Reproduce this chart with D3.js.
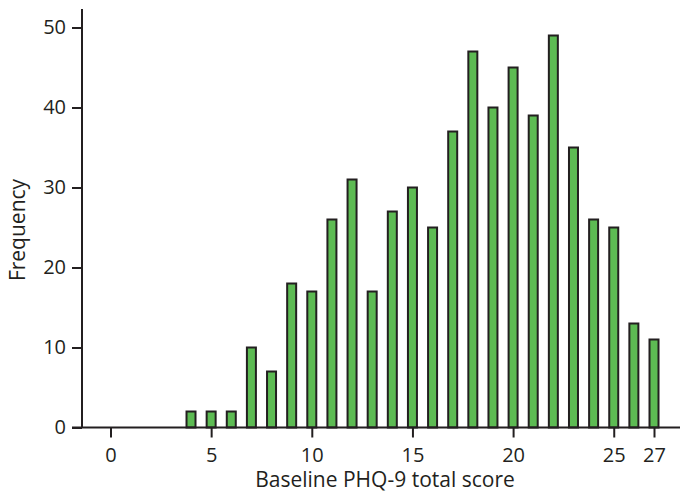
<!DOCTYPE html>
<html>
<head>
<meta charset="utf-8">
<script src="https://cdn.jsdelivr.net/npm/d3@7"></script>
<style>
  body { margin: 0; background: #fff; }
  svg text { font-family: "Open Sans", sans-serif; fill: #231f20; }
</style>
</head>
<body>
<div id="vis-holder"></div>
<script>
// Chart data
const scores = [4, 5, 6, 7, 8, 9, 10, 11, 12, 13, 14, 15, 16, 17, 18, 19, 20, 21, 22, 23, 24, 25, 26, 27];
const counts = [2, 2, 2, 10, 7, 18, 17, 26, 31, 17, 27, 30, 25, 37, 47, 40, 45, 39, 49, 35, 26, 25, 13, 11];
const xTicks = [0, 5, 10, 15, 20, 25, 27];
const yTicks = [0, 10, 20, 30, 40, 50];

const width = 681;
const height = 493;
const margin = { top: 9, right: 1, bottom: 65, left: 82 };

const svg = d3.select("#vis-holder")
    .append("svg")
    .attr("width", width)
    .attr("height", height);

// Scales
const x = d3.scaleLinear()
    .domain([0, 27])
    .range([110.5, 654]);

const y = d3.scaleLinear()
    .domain([0, 50])
    .range([427.5, 27.5]);

const axisColor = "#231f20";

// Bars
const barW = 9;
svg.selectAll(".bar")
    .data(scores)
    .enter()
    .append("rect")
    .attr("class", "bar")
    .attr("x", (d) => x(d) - barW / 2)
    .attr("y", (d, i) => y(counts[i]))
    .attr("width", barW)
    .attr("height", (d, i) => y(0) - y(counts[i]))
    .style("fill", "#5dbb53")
    .style("stroke", "#231f20")
    .style("stroke-width", 2);

// x axis
const gx = svg.append("g")
    .attr("transform", `translate(0,${y(0)})`)
    .call(d3.axisBottom(x)
        .tickValues(xTicks)
        .tickSize(10)
        .tickPadding(10)
        .tickSizeOuter(0))
    .attr("font-size", "20px");
gx.select(".domain").remove();
gx.selectAll(".tick line").attr("stroke", axisColor).attr("stroke-width", 2);
gx.append("line")
    .attr("x1", 72).attr("x2", width - margin.right)
    .attr("stroke", axisColor).attr("stroke-width", 2);

// y axis
const gy = svg.append("g")
    .attr("transform", `translate(${margin.left},0)`)
    .call(d3.axisLeft(y)
        .tickValues(yTicks)
        .tickSize(10)
        .tickPadding(6)
        .tickSizeOuter(0))
    .attr("font-size", "20px");
gy.select(".domain").remove();
gy.selectAll(".tick line").attr("stroke", axisColor).attr("stroke-width", 2);
gy.append("line")
    .attr("y1", margin.top).attr("y2", y(0))
    .attr("stroke", axisColor).attr("stroke-width", 2);

// Axis titles
svg.append("text")
    .attr("x", (247 + 523) / 2)
    .attr("y", 487)
    .attr("text-anchor", "middle")
    .attr("font-size", "21px")
    .text("Baseline PHQ-9 total score");

svg.append("text")
    .attr("transform", `translate(25,230) rotate(-90)`)
    .attr("text-anchor", "middle")
    .attr("font-size", "21px")
    .text("Frequency");
</script>
</body>
</html>
